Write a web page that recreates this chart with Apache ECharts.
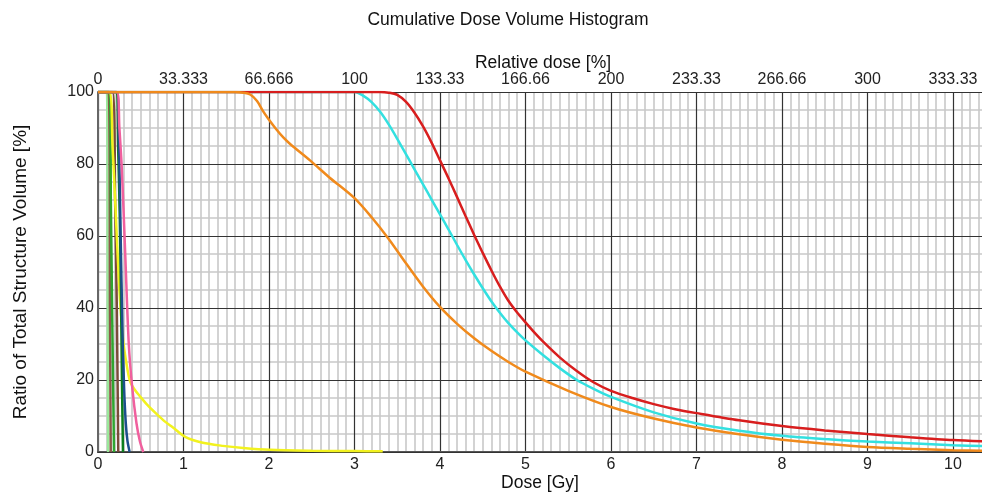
<!DOCTYPE html>
<html>
<head>
<meta charset="utf-8">
<script src="https://cdn.jsdelivr.net/npm/echarts@6/dist/echarts.min.js"></script>
<style>
html,body{margin:0;padding:0;background:#fff;}
#chart{width:982px;height:496px;}
</style>
</head>
<body>
<div id="chart"></div>
<script>
// ---- Data (dose [Gy], volume [%]) ----
const topTickLabels = ['0','33.333','66.666','100','133.33','166.66','200','233.33','266.66','300','333.33'];

const lightGreenCurve = [[0,100],[0.105,100],[0.112,60],[0.118,0]];
const brownCurve1 = [[0,100],[0.125,100],[0.14,40],[0.149,0]];
const greenCurve = [[0,100],[0.135,100],[0.15,70],[0.165,40],[0.187,0]];
const brownCurve2 = [[0,100],[0.17,100],[0.2,70],[0.22,40],[0.237,0]];
const darkGreenCurve = [[0,100],[0.21,100],[0.235,85],[0.255,65],[0.268,45],[0.28,20],[0.292,0]];
const navyCurve = [[0,100],[0.22,100],[0.245,85],[0.265,60],[0.285,35],[0.305,18],[0.325,8],[0.345,3],[0.37,0]];
const yellowCurve = [[0,100],[0.13,100],[0.17,85],[0.21,65],[0.25,45],[0.29,32],[0.33,25],[0.374,19.7],[0.43,17.3],[0.49,15.5],[0.58,13],[0.687,10.5],[0.78,8.5],[0.877,6.8],[1.02,4.2],[1.2,2.7],[1.46,1.7],[1.7,1.1],[2.01,0.6],[2.5,0.35],[3.0,0.25],[3.33,0.2]];
const pinkCurve = [[0,100],[0.22,100],[0.25,90],[0.28,78],[0.32,54],[0.36,30],[0.40,18],[0.45,8],[0.49,3],[0.53,0]];
const cyanCurve = [[0,100],[3.0,100],[3.1,99],[3.2,97.2],[3.3,94.5],[3.4,91],[3.5,87],[3.6,82.8],[3.7,78.6],[3.8,74.4],[3.9,70.2],[4.0,66],[4.1,61.8],[4.2,57.5],[4.3,53.3],[4.4,49.3],[4.5,45.5],[4.6,41.9],[4.7,38.7],[4.8,35.8],[4.9,33.3],[5.0,31],[5.2,27],[5.4,23.3],[5.6,20],[5.8,17.5],[6.0,15.3],[6.5,11],[7.0,7.9],[7.5,5.9],[8.0,4.5],[8.5,3.6],[9.0,2.9],[9.5,2.4],[10,1.9],[10.4,1.6]];
const redCurve = [[0,100],[3.3,100],[3.4,99.8],[3.5,99.2],[3.6,97.3],[3.7,94.3],[3.8,90.5],[3.9,86],[4.0,81],[4.1,76],[4.2,70.8],[4.3,65.5],[4.4,60.3],[4.5,55.3],[4.6,50.5],[4.7,46],[4.8,42],[4.9,38.8],[5.0,36],[5.1,33.3],[5.2,30.8],[5.4,26.3],[5.6,22.5],[5.8,19.3],[6.0,17],[6.25,15],[6.5,13.3],[6.75,11.9],[7.0,10.8],[7.5,8.8],[8.0,7.2],[8.5,6],[9.0,5],[9.5,4.1],[10,3.3],[10.4,2.9]];
const orangeCurve = [[0,100],[1.6,100],[1.7,99.8],[1.78,99.3],[1.86,97.5],[1.93,94.7],[2.0,92.3],[2.08,89.8],[2.17,87.3],[2.25,85.5],[2.48,81],[2.71,76.2],[3.0,70.5],[3.2,65.2],[3.4,59.2],[3.6,52.5],[3.8,46],[4.0,40.3],[4.2,35.6],[4.4,31.6],[4.6,28.1],[4.8,25],[5.0,22.3],[5.5,17],[6.0,12.5],[6.5,9.3],[7.0,6.8],[7.5,4.9],[8.0,3.4],[8.5,2.3],[9.0,1.4],[9.5,0.9],[10,0.5],[10.4,0.3]];

const FONT = 'Liberation Sans, Arial, sans-serif';
const chart = echarts.init(document.getElementById('chart'), null, {renderer:'canvas'});

function line(data, color, smooth) {
  return {
    type:'line', data:data, showSymbol:false, symbol:'none',
    smooth: smooth, z:3,
    lineStyle:{color:color, width:2.5}, itemStyle:{color:color},
    xAxisIndex:0, yAxisIndex:0, animation:false
  };
}

const MAJOR = {color:'#333', width:1.2, type:'solid'};
const MINOR = {color:'#c8c8c8', width:1.6, type:'solid'};

const option = {
  backgroundColor:'#ffffff',
  animation:false,
  title:[
    {text:'Cumulative Dose Volume Histogram', left:508, top:11, padding:0, textAlign:'center',
     textStyle:{fontFamily:FONT, fontSize:17.5, fontWeight:'normal', color:'#111'}},
    {text:'Relative dose [%]', left:543, top:54, padding:0, textAlign:'center',
     textStyle:{fontFamily:FONT, fontSize:17.5, fontWeight:'normal', color:'#111'}},
    {text:'Dose [Gy]', left:540, top:474, padding:0, textAlign:'center',
     textStyle:{fontFamily:FONT, fontSize:17.5, fontWeight:'normal', color:'#111'}}
  ],
  grid:{left:98, top:92, right:-56.5, bottom:44, containLabel:false, outerBoundsMode:'none'},
  xAxis:[
    {type:'value', min:0, max:11, interval:1, position:'bottom', z:0,
     axisLine:{show:false},
     axisTick:{show:false},
     axisLabel:{margin:5, fontFamily:FONT, fontSize:16, color:'#222'},
     splitLine:{show:false},
     minorTick:{show:false, splitNumber:10},
     minorSplitLine:{show:true, lineStyle:MINOR}
    },
    {type:'value', min:0, max:1100/3, interval:100/3, position:'top', z:2,
     axisLine:{show:true, lineStyle:{color:'#333', width:1.2}},
     axisTick:{show:false},
     axisLabel:{margin:4, fontFamily:FONT, fontSize:16, color:'#222',
       formatter:function(v){ const i = Math.round(v*3/100); return topTickLabels[i] !== undefined ? topTickLabels[i] : ''; }},
     splitLine:{show:false}
    },
    {type:'value', min:0, max:11, interval:1, position:'bottom', z:1,
     axisLine:{show:true, onZero:false, lineStyle:{color:'#555', width:2}},
     axisTick:{show:false}, axisLabel:{show:false},
     splitLine:{show:true, lineStyle:MAJOR}
    }
  ],
  yAxis:[
    {type:'value', min:0, max:100, interval:20, position:'left', z:0,
     name:'Ratio of Total Structure Volume [%]', nameLocation:'middle', nameRotate:90, nameGap:68,
     nameTextStyle:{fontFamily:FONT, fontSize:19, color:'#111'},
     axisLine:{show:false},
     axisTick:{show:false},
     axisLabel:{margin:4, fontFamily:FONT, fontSize:16, color:'#222'},
     splitLine:{show:false},
     minorTick:{show:false, splitNumber:4},
     minorSplitLine:{show:true, lineStyle:MINOR}
    },
    {type:'value', min:0, max:100, interval:20, position:'left', z:1,
     axisLine:{show:true, onZero:false, lineStyle:{color:'#666', width:2}},
     axisTick:{show:false}, axisLabel:{show:false},
     splitLine:{show:true, lineStyle:MAJOR}
    }
  ],
  series:[
    line(lightGreenCurve, '#9be89b', 0.2),
    line(brownCurve1, '#8b5a4a', 0.2),
    line(greenCurve, '#2fa52f', 0.2),
    line(brownCurve2, '#7a4a3a', 0.2),
    line(yellowCurve, '#f2f21e', 0.3),
    line(darkGreenCurve, '#0c7d1e', 0.2),
    line(navyCurve, '#1d4f8c', 0.3),
    line(pinkCurve, '#f0609e', 0.3),
    line(cyanCurve, '#33e0e0', 0.3),
    line(redCurve, '#d81e1e', 0.3),
    line(orangeCurve, '#f08a1c', 0.3)
  ]
};
chart.setOption(option);
</script>
</body>
</html>
